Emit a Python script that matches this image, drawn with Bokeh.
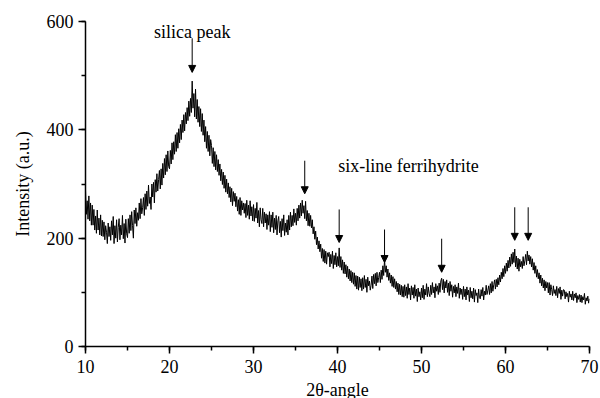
from bokeh.plotting import figure
from bokeh.models import (Range1d, SingleIntervalTicker, Arrow, NormalHead,
                          ColumnDataSource, Label)
from bokeh.embed import file_html
from bokeh.resources import INLINE

FONT = "Liberation Serif"

# ---- data ----
two_theta_start = 10.0
two_theta_step = 0.1
intensity = [
    289, 244, 269, 235, 278, 232, 265, 224, 261, 224,   # 10
    253, 215, 241, 209, 252, 215, 237, 206, 243, 204,   # 11
    233, 203, 230, 197, 223, 211, 190, 228, 203, 221,   # 12
    196, 232, 206, 240, 190, 223, 200, 234, 193, 220,   # 13
    236, 197, 224, 206, 242, 199, 227, 191, 235, 208,   # 14
    201, 236, 209, 243, 214, 249, 223, 200, 252, 227,   # 15
    256, 222, 247, 233, 265, 236, 273, 245, 256, 275,   # 16
    242, 282, 253, 287, 259, 298, 264, 276, 253, 300,   # 17
    276, 303, 265, 308, 285, 319, 287, 308, 325, 291,   # 18
    328, 298, 338, 311, 347, 317, 354, 323, 361, 332,   # 19
    328, 362, 337, 376, 345, 378, 355, 391, 360, 395,   # 20
    366, 402, 376, 410, 382, 418, 395, 428, 398, 432,   # 21
    411, 441, 417, 453, 425, 458, 432, 490, 440, 467,   # 22
    424, 475, 420, 456, 414, 443, 406, 439, 397, 430,   # 23
    390, 418, 378, 406, 366, 397, 360, 390, 352, 382,   # 24
    371, 338, 367, 332, 360, 326, 354, 323, 345, 316,   # 25
    337, 306, 327, 299, 322, 292, 316, 285, 309, 282,   # 26
    302, 275, 295, 267, 292, 260, 286, 268, 283, 258,   # 27
    277, 250, 271, 244, 275, 242, 269, 252, 265, 246,   # 28
    264, 238, 270, 242, 261, 235, 269, 241, 258, 232,   # 29
    262, 231, 255, 237, 266, 228, 251, 221, 256, 234,   # 30
    227, 255, 221, 248, 228, 245, 216, 243, 224, 249,   # 31
    212, 243, 220, 248, 210, 237, 216, 242, 206, 232,   # 32
    240, 210, 231, 202, 236, 214, 243, 205, 228, 211,   # 33
    234, 206, 242, 215, 248, 221, 242, 223, 254, 229,   # 34
    246, 224, 255, 232, 261, 237, 265, 241, 270, 246,   # 35
    260, 236, 268, 232, 251, 223, 246, 222, 242, 219,   # 36
    234, 208, 221, 198, 213, 188, 202, 180, 195, 175,   # 37
    189, 163, 181, 157, 179, 154, 176, 152, 173, 166,   # 38
    174, 147, 170, 153, 176, 144, 168, 151, 173, 147,   # 39
    166, 149, 182, 146, 166, 141, 160, 135, 156, 134,   # 40
    151, 128, 148, 125, 143, 121, 140, 118, 137, 115,   # 41
    136, 111, 131, 106, 130, 104, 128, 109, 125, 103,   # 42
    127, 106, 131, 109, 124, 100, 128, 112, 121, 104,   # 43
    113, 130, 107, 133, 116, 135, 112, 137, 118, 127,   # 44
    137, 118, 141, 124, 149, 131, 160, 137, 149, 128,   # 45
    143, 122, 136, 117, 132, 111, 129, 109, 125, 106,   # 46
    120, 101, 117, 96, 115, 95, 113, 92, 111, 91,       # 47
    114, 94, 110, 89, 116, 96, 108, 86, 112, 95,        # 48
    109, 89, 114, 93, 106, 83, 108, 92, 101, 86,        # 49
    108, 90, 113, 87, 106, 95, 116, 92, 110, 98,        # 50
    92, 113, 96, 118, 99, 110, 90, 116, 102, 112,       # 51
    96, 117, 100, 121, 126, 105, 124, 99, 120, 108,     # 52
    123, 100, 117, 94, 120, 102, 114, 91, 111, 99,      # 53
    114, 92, 110, 98, 117, 89, 108, 96, 106, 87,        # 54
    111, 92, 106, 86, 110, 95, 104, 83, 109, 90,        # 55
    102, 88, 108, 82, 105, 94, 99, 81, 106, 90,         # 56
    88, 105, 93, 109, 86, 102, 95, 113, 96, 104,        # 57
    112, 96, 116, 99, 120, 102, 114, 123, 106, 124,     # 58
    110, 127, 114, 132, 119, 137, 125, 144, 129, 149,   # 59
    135, 154, 139, 159, 145, 165, 148, 171, 152, 174,   # 60
    155, 180, 147, 167, 143, 163, 139, 161, 147, 157,   # 61
    144, 166, 149, 158, 170, 151, 176, 158, 169, 152,   # 62
    166, 147, 162, 141, 155, 135, 149, 128, 142, 125,   # 63
    136, 117, 132, 112, 126, 108, 123, 103, 120, 108,   # 64
    118, 99, 118, 95, 114, 105, 94, 112, 98, 105,       # 65
    94, 111, 90, 107, 98, 110, 87, 104, 93, 105,        # 66
    104, 88, 101, 92, 98, 82, 102, 91, 97, 86,          # 67
    102, 85, 97, 90, 99, 81, 94, 87, 96, 82,            # 68
    95, 81, 92, 86, 98, 78, 90, 84, 93, 80,             # 69
    88,                                                 # 70
]
two_theta = [round(two_theta_start + i * two_theta_step, 1) for i in range(len(intensity))]

# arrows: silica peak and six-line ferrihydrite reflections
silica_arrow_x = [22.7]
silica_arrow_top = [569]
silica_arrow_tip = [506]

fh_arrow_x = [36.1, 40.2, 45.6, 52.4, 61.1, 62.7]
fh_arrow_top = [343, 253, 216, 199, 257, 257]
fh_arrow_tip = [282, 192, 155, 137, 196, 196]

x_ticks_interval = 10
y_ticks_interval = 200

# ---- figure ----
p = figure(output_backend="svg", toolbar_location=None,
           frame_width=504, frame_height=325,
           min_border_left=85, min_border_right=11,
           min_border_top=21, min_border_bottom=52,
           x_range=Range1d(10, 70), y_range=Range1d(0, 600),
           x_axis_label="2θ-angle", y_axis_label="Intensity (a.u.)")

p.line(two_theta, intensity, line_color="black", line_width=1)

arrow_src = ColumnDataSource(dict(
    x=silica_arrow_x + fh_arrow_x,
    y0=silica_arrow_top + fh_arrow_top,
    y1=silica_arrow_tip + fh_arrow_tip,
))
p.add_layout(Arrow(end=NormalHead(size=7, fill_color="black", line_color="black",
                                  line_width=1),
                   x_start="x", y_start="y0", x_end="x", y_end="y1",
                   line_color="black", line_width=1, source=arrow_src))

p.add_layout(Label(x=22.7, y=581, text="silica peak", text_align="center",
                   text_baseline="alphabetic", text_font=FONT,
                   text_font_size="18px", text_color="black"))
p.add_layout(Label(x=40.1, y=334, text="six-line ferrihydrite", text_align="left",
                   text_baseline="alphabetic", text_font=FONT,
                   text_font_size="18px", text_color="black"))

p.xaxis.ticker = SingleIntervalTicker(interval=x_ticks_interval, num_minor_ticks=2)
p.yaxis.ticker = SingleIntervalTicker(interval=y_ticks_interval, num_minor_ticks=2)

for ax in (p.xaxis[0], p.yaxis[0]):
    ax.axis_line_color = "black"
    ax.axis_line_width = 1.5
    ax.major_tick_line_color = "black"
    ax.minor_tick_line_color = "black"
    ax.major_tick_line_width = 1.5
    ax.minor_tick_line_width = 1.5
    ax.major_tick_in = 0
    ax.minor_tick_in = 0
    ax.major_tick_out = 7
    ax.minor_tick_out = 4
    ax.major_label_text_font = FONT
    ax.major_label_text_font_size = "18px"
    ax.major_label_text_color = "black"
    ax.axis_label_text_font = FONT
    ax.axis_label_text_font_size = "18px"
    ax.axis_label_text_font_style = "normal"
    ax.axis_label_text_color = "black"

p.xaxis.major_label_standoff = 6
p.xaxis.axis_label_standoff = 4
p.yaxis.major_label_standoff = 5
p.yaxis.axis_label_standoff = 11

p.xgrid.visible = False
p.ygrid.visible = False
p.outline_line_color = None
p.background_fill_color = "white"
p.border_fill_color = "white"

open("out.html", "w").write(file_html(p, INLINE))
